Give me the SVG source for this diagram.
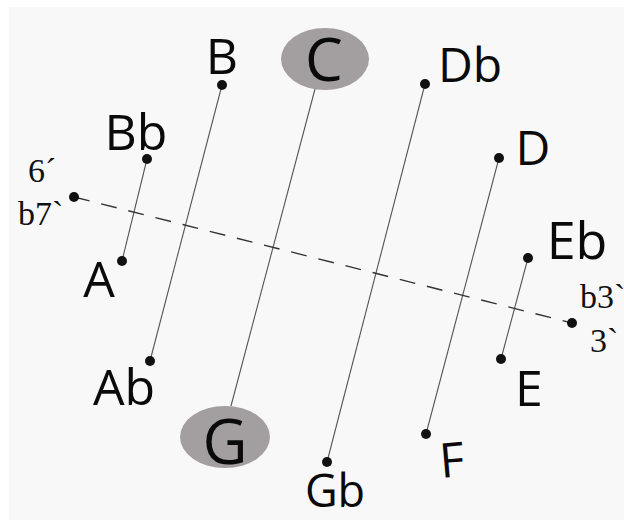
<svg xmlns="http://www.w3.org/2000/svg" width="624" height="522" viewBox="0 0 624 522">
<style>
.note{font-family:"Open Sans","DejaVu Sans",sans-serif;fill:#0a0a0a;text-anchor:middle}
.deg{font-family:"Liberation Serif","DejaVu Serif",serif;fill:#111;font-size:34px}
.dot{fill:#111}
.ln{stroke:#555;stroke-width:1.1;fill:none}
.dash{stroke:#333;stroke-width:1.4;stroke-dasharray:16 12;fill:none}
.hl{fill:#a39e9f}
</style>
<rect x="0" y="0" width="624" height="522" fill="#ffffff"/>
<rect x="9" y="7" width="615" height="513" fill="#f9f8f9"/>
<g id="connectors">
<line class="ln" x1="222" y1="85" x2="150" y2="361"/>
<line class="ln" x1="147" y1="159" x2="122" y2="261"/>
<line class="ln" x1="315" y1="89" x2="231" y2="406"/>
<line class="ln" x1="425" y1="84" x2="327" y2="462"/>
<line class="ln" x1="499" y1="158" x2="426" y2="434"/>
<line class="ln" x1="528" y1="258" x2="501" y2="359"/>
<line class="dash" x1="74" y1="197" x2="572" y2="323"/>
</g>
<g id="node-C"><ellipse class="hl" cx="325" cy="59" rx="44" ry="31"/><text class="note" x="324" y="81" font-size="60">C</text></g>
<g id="node-G"><ellipse class="hl" cx="225" cy="437" rx="45" ry="31"/><text class="note" x="225" y="464" font-size="62">G</text></g>
<g id="node-B"><circle class="dot" cx="222" cy="85" r="5"/><text class="note" x="222" y="74" font-size="50">B</text></g>
<g id="node-Db"><circle class="dot" cx="425" cy="84" r="5"/><text class="note" x="470" y="82" font-size="48">Db</text></g>
<g id="node-Bb"><circle class="dot" cx="147" cy="159" r="5"/><text class="note" x="136" y="150" font-size="50">Bb</text></g>
<g id="node-A"><circle class="dot" cx="122" cy="261" r="5"/><text class="note" x="99" y="297" font-size="50">A</text></g>
<g id="node-D"><circle class="dot" cx="499" cy="158" r="5"/><text class="note" x="533" y="165" font-size="48">D</text></g>
<g id="node-Eb"><circle class="dot" cx="528" cy="258" r="5"/><text class="note" x="577" y="259" font-size="52">Eb</text></g>
<g id="node-E"><circle class="dot" cx="501" cy="359" r="5"/><text class="note" x="529" y="406" font-size="50">E</text></g>
<g id="node-Ab"><circle class="dot" cx="150" cy="361" r="5"/><text class="note" x="124" y="405" font-size="50">Ab</text></g>
<g id="node-Gb"><circle class="dot" cx="327" cy="462" r="5"/><text class="note" x="335" y="507" font-size="45">Gb</text></g>
<g id="node-F"><circle class="dot" cx="426" cy="434" r="5"/><text class="note" x="452" y="477" font-size="48" transform="rotate(-5 452 462)">F</text></g>
<g id="node-left"><circle class="dot" cx="74" cy="197" r="5"/><text class="deg" x="28" y="182">6´</text><text class="deg" x="18" y="225">b7`</text></g>
<g id="node-right"><circle class="dot" cx="572" cy="323" r="5"/><text class="deg" x="580" y="308">b3`</text><text class="deg" x="590" y="352">3`</text></g>
</svg>
